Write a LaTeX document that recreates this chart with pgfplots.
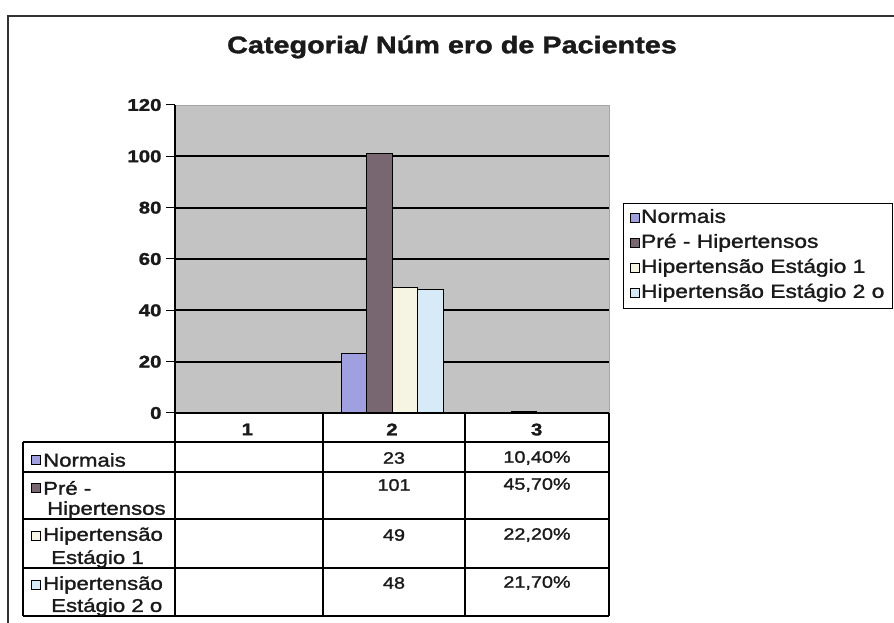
\documentclass[border=0pt]{standalone}
\usepackage{pgfplots}
\pgfplotsset{compat=1.18}
\usepackage{fontspec}
\setmainfont{Liberation Sans}[FakeStretch=1.2, FakeBold=1.5]
\definecolor{plotbg}{HTML}{C3C3C3}
\definecolor{cnorm}{HTML}{A0A0E0}
\definecolor{cpre}{HTML}{786670}
\definecolor{chone}{HTML}{F6F4E2}
\definecolor{chtwo}{HTML}{D6EAF8}
\definecolor{framec}{HTML}{333333}
\definecolor{txt}{HTML}{1A1A1A}
\pgfplotsset{sqleg/.style={legend image code/.code={\draw[##1,line width=0.8pt,draw=black] (0pt,-4.5pt) rectangle (9pt,4.5pt);}}}
\newcommand{\key}[2]{\draw[fill=#1,draw=black,line width=0.8pt] #2 rectangle ++(9,9);}
\begin{document}
\begin{tikzpicture}[x=1pt,y=1pt]
\path[use as bounding box] (0,0) rectangle (894,623);
\fill[white] (0,0) rectangle (894,623);
\draw[line width=1.5pt, framec] (8,0) -- (8,607) -- (894,607);
\node[font=\bfseries\fontsize{24}{28}\selectfont, text=txt] at (452,576) {Categoria/ Núm ero de Pacientes};
\begin{axis}[
  at={(175pt,210pt)}, anchor=south west,
  width=434pt, height=308pt, scale only axis,
  xmin=0.5, xmax=3.5, ymin=0, ymax=120,
  ybar=0pt, bar width=25.5pt,
  axis y line*=left, axis x line*=bottom,
  axis background/.style={fill=plotbg, draw=black!35},
  ytick={0,20,...,120},
  extra y ticks={20,40,60,80,100},
  extra y tick labels={},
  extra y tick style={grid=major, major tick length=0pt},
  major grid style={black, line width=1.9pt},
  tick align=outside, major tick length=9pt,
  ytick style={black, line width=1pt},
  xtick={1,2,3}, xticklabels={1,2,3},
  xtick style={draw=none},
  /pgf/number format/assume math mode=true,
  ticklabel style={font=\bfseries\fontsize{17}{20}\selectfont, text=txt},
  yticklabel style={xshift=-1pt},
  xticklabel style={yshift=2pt},
  y axis line style={black, line width=1.5pt},
  x axis line style={black, line width=1.5pt},
  legend style={at={(axis description cs:1.032,0.682)}, anchor=north west,
    draw=black, line width=0.8pt, font=\fontsize{19}{22}\selectfont, text=txt,
    legend cell align=left, row sep=5pt, inner xsep=7pt, inner ysep=5pt,
    nodes={inner sep=1pt, text height=13.5pt, text depth=4.5pt}},
  clip=false,
]
\addplot[fill=cnorm, draw=black, line width=1pt, sqleg] coordinates {(2,23) (3,0.104)};
\addplot[fill=cpre, draw=black, line width=1pt, sqleg] coordinates {(2,101) (3,0.457)};
\addplot[fill=chone, draw=black, line width=1pt, sqleg] coordinates {(2,49) (3,0.222)};
\addplot[fill=chtwo, draw=black, line width=1pt, sqleg] coordinates {(2,48) (3,0.217)};
\legend{Normais, Pré - Hipertensos, Hipertensão Estágio 1, Hipertensão Estágio 2 o}
\end{axis}
% data table
\begin{scope}[line width=1.4pt]
\foreach \yy in {181,151,104,55,7} \draw (23,\yy) -- (609,\yy);
\draw (23,181) -- (23,7);
\draw (175,210) -- (175,7);
\foreach \xx in {323,465,609} \draw (\xx,210) -- (\xx,7);
\end{scope}
\begin{scope}[font=\fontsize{16.5}{20}\selectfont, text=txt]
\node at (394,165) {23};   \node at (537,165) {10,40\%};
\node at (394,138) {101};  \node at (537,138) {45,70\%};
\node at (394,88) {49};    \node at (537,88) {22,20\%};
\node at (394,40) {48};    \node at (537,40) {21,70\%};
\end{scope}
\begin{scope}[font=\fontsize{18.5}{23}\selectfont, text=txt]
\key{cnorm}{(31,158.5)} \node[anchor=west,inner sep=0pt] at (43,163) {Normais};
\key{cpre}{(31,130.5)} \node[anchor=west,inner sep=0pt] at (43,135) {Pré -};
\node[anchor=west,inner sep=0pt] at (47,113) {Hipertensos};
\key{chone}{(31,82.5)} \node[anchor=west,inner sep=0pt] at (43,87) {Hipertensão};
\node[anchor=west,inner sep=0pt] at (51,64) {Estágio 1};
\key{chtwo}{(31,33.5)} \node[anchor=west,inner sep=0pt] at (43,38) {Hipertensão};
\node[anchor=west,inner sep=0pt] at (51,16) {Estágio 2 o};
\end{scope}
\end{tikzpicture}
\end{document}
